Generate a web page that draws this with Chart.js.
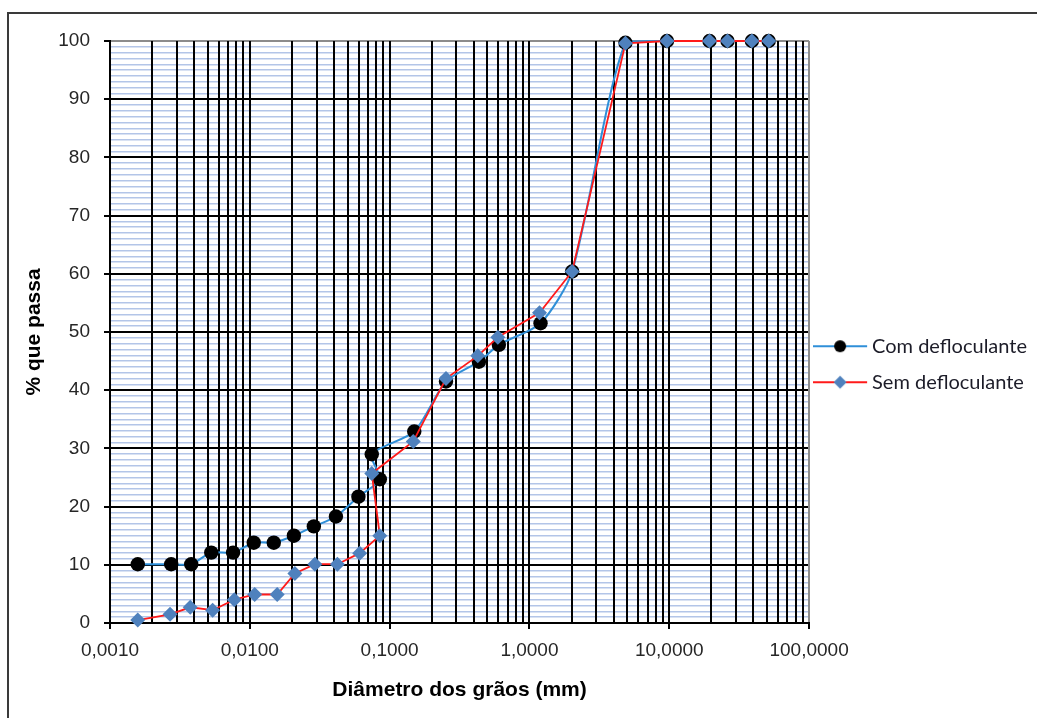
<!DOCTYPE html>
<html><head><meta charset="utf-8">
<script src="https://cdn.jsdelivr.net/npm/chart.js@4.4.1/dist/chart.umd.min.js"></script>
<style>
html,body{margin:0;padding:0;background:#fff;}
#wrap{position:relative;width:1037px;height:718px;overflow:hidden;background:#fff;}
#frame{position:absolute;left:7px;top:12px;width:1100px;height:800px;border-left:2px solid #3a3a3a;border-top:2px solid #3a3a3a;pointer-events:none;}
canvas{position:absolute;left:0;top:0;}
</style></head><body>
<div id="wrap"><canvas id="c" width="1037" height="718"></canvas><div id="frame"></div></div>
<script>
const seriesNames = ['Com defloculante', 'Sem defloculante'];
const comX = [0.00158, 0.00274, 0.00381, 0.0053, 0.00759, 0.01067, 0.01484, 0.02066, 0.0287, 0.0413, 0.0598, 0.0851, 0.0745, 0.150, 0.253, 0.435, 0.604, 1.20, 2.02, 4.86, 9.63, 19.4, 26.1, 39.0, 51.4];
const comY = [10.1, 10.1, 10.1, 12.1, 12.1, 13.8, 13.8, 15.0, 16.6, 18.3, 21.7, 24.7, 29.0, 32.9, 41.5, 44.9, 47.8, 51.5, 60.4, 99.7, 100, 100, 100, 100, 100];
const semX = [0.00158, 0.00269, 0.00375, 0.00542, 0.00775, 0.01084, 0.0157, 0.021, 0.0292, 0.0423, 0.0611, 0.0851, 0.0745, 0.1475, 0.253, 0.427, 0.594, 1.18, 2.02, 4.86, 9.63, 19.4, 26.1, 39.0, 51.4];
const semY = [0.5, 1.5, 2.7, 2.2, 4.0, 4.9, 4.9, 8.5, 10.1, 10.1, 12.0, 15.0, 25.7, 31.2, 42.0, 45.9, 49.1, 53.3, 60.4, 99.6, 100, 100, 100, 100, 100];
const xTickLabels = ['0,0010', '0,0100', '0,1000', '1,0000', '10,0000', '100,0000'];
const yTickLabels = ['0', '10', '20', '30', '40', '50', '60', '70', '80', '90', '100'];
const xTitle = 'Diâmetro dos grãos (mm)';
const yTitle = '% que passa';

const comLine = '#2f8fd8', semLine = '#ff1a1a', semMarker = '#4f81bd';

function icon(kind) {
  const cv = document.createElement('canvas');
  cv.width = 61; cv.height = 18;
  const g = cv.getContext('2d');
  g.strokeStyle = kind === 0 ? comLine : semLine;
  g.lineWidth = 2;
  g.beginPath(); g.moveTo(0, 9); g.lineTo(54, 9); g.stroke();
  if (kind === 0) {
    g.fillStyle = '#000'; g.beginPath(); g.arc(27, 9, 6, 0, Math.PI * 2); g.fill();
  } else {
    g.fillStyle = semMarker; g.beginPath();
    g.moveTo(27, 2.5); g.lineTo(33.5, 9); g.lineTo(27, 15.5); g.lineTo(20.5, 9); g.closePath(); g.fill();
  }
  return cv;
}
const legendIcons = [icon(0), icon(1)];

const isDecade = v => Math.abs(Math.log10(v) - Math.round(Math.log10(v))) < 1e-6;

const data = {
  datasets: [
    {
      label: seriesNames[0],
      data: comX.map((x, i) => ({x, y: comY[i]})),
      showLine: true, borderColor: comLine, borderWidth: 2, tension: 0.25,
      pointStyle: 'circle', pointRadius: 7.2, pointBackgroundColor: '#000', pointBorderColor: '#000', pointBorderWidth: 0,
      order: 2, clip: false
    },
    {
      label: seriesNames[1],
      data: semX.map((x, i) => ({x, y: semY[i]})),
      showLine: true, borderColor: semLine, borderWidth: 1.8, tension: 0,
      pointStyle: 'rectRot', pointRadius: 7.5, pointBackgroundColor: semMarker, pointBorderColor: semMarker, pointBorderWidth: 0,
      order: 1, clip: false
    }
  ]
};

new Chart(document.getElementById('c'), {
  type: 'scatter',
  data,
  options: {
    responsive: false, animation: false, devicePixelRatio: 1,
    layout: {padding: {top: 41, right: 0, bottom: 0, left: 0}},
    plugins: {
      tooltip: {enabled: false},
      legend: {
        position: 'right', align: 'start', maxWidth: 229,
        title: {display: true, text: ' ', font: {size: 1}, padding: {top: 278, bottom: 0}},
        labels: {
          usePointStyle: true, pointStyleWidth: 37, padding: 16,
          font: {family: 'Lato, "Open Sans", sans-serif', size: 20},
          color: '#1c1c28',
          generateLabels(chart) {
            const items = Chart.defaults.plugins.legend.labels.generateLabels(chart);
            items.forEach(it => { it.pointStyle = legendIcons[it.datasetIndex]; });
            return items.sort((a, b) => a.datasetIndex - b.datasetIndex);
          }
        }
      }
    },
    scales: {
      x: {
        type: 'logarithmic', min: 0.001, max: 100,
        afterBuildTicks(s) {
          const t = [];
          for (let e = -3; e <= 1; e++) for (let m = 1; m <= 9; m++) t.push({value: Number(m + 'e' + e)});
          t.push({value: 100});
          s.ticks = t;
        },
        afterFit(s) { s.height = 95; },
        ticks: {
          autoSkip: false, maxRotation: 0, minRotation: 0, padding: 10,
          font: {family: '"Liberation Sans", Arial, sans-serif', size: 19}, color: '#262626',
          callback(v) { return isDecade(v) ? xTickLabels[Math.round(Math.log10(v)) + 3] : ''; }
        },
        grid: {
          z: -1,
          color: c => (c.tick && Math.abs(c.tick.value - 100) < 1e-9) ? '#8c8c8c' : '#000',
          lineWidth: 2, tickLength: 6, tickWidth: 2,
          tickColor: c => (c.tick && isDecade(c.tick.value)) ? '#000' : 'rgba(0,0,0,0)'
        },
        border: {color: '#000', width: 2},
        title: {display: true, text: xTitle, color: '#000',
          font: {family: '"Liberation Sans", Arial, sans-serif', size: 21, weight: 'bold'},
          padding: {top: 0, bottom: 15}}
      },
      y: {
        type: 'linear', min: 0, max: 100,
        afterBuildTicks(s) {
          const t = [];
          for (let v = 0; v <= 100; v++) t.push({value: v});
          s.ticks = t;
        },
        afterFit(s) { s.width = 110; },
        ticks: {
          autoSkip: false, padding: 14,
          font: {family: '"Liberation Sans", Arial, sans-serif', size: 19}, color: '#262626',
          callback(v) { return v % 10 === 0 ? yTickLabels[v / 10] : ''; }
        },
        grid: {
          z: -2,
          color: c => {
            const v = c.tick ? c.tick.value : 0;
            if (v === 100) return '#8c8c8c';
            return v % 10 === 0 ? '#000' : '#b3c5e8';
          },
          lineWidth: c => (c.tick && c.tick.value % 10 === 0) ? 2 : 1.5,
          tickLength: 6, tickWidth: 2,
          tickColor: c => (c.tick && c.tick.value % 10 === 0) ? '#000' : 'rgba(0,0,0,0)'
        },
        border: {color: '#000', width: 2},
        title: {display: true, text: yTitle, color: '#000',
          font: {family: '"Liberation Sans", Arial, sans-serif', size: 21, weight: 'bold'},
          padding: {top: 22, bottom: 0}}
      }
    }
  }
});
</script>
</body></html>
